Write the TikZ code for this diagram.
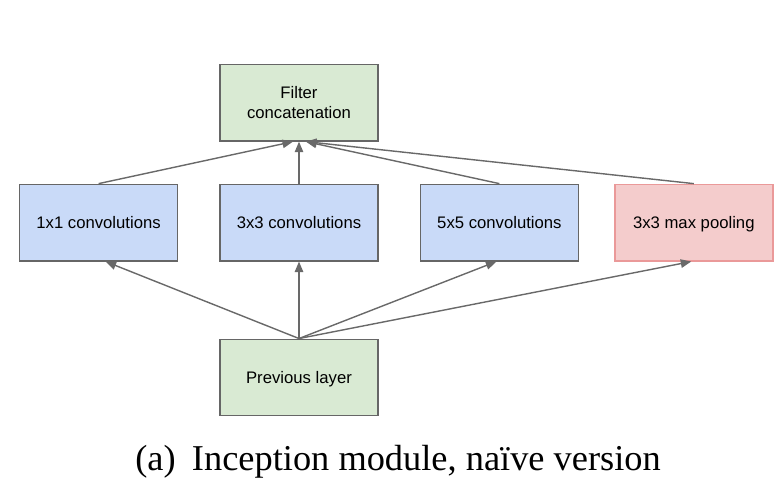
\documentclass[tikz,border=0pt]{standalone}
\usepackage{fontspec}
\setmainfont{Liberation Serif}
\newfontfamily\boxfont{Liberation Sans}
\usetikzlibrary{positioning,arrows.meta}
\definecolor{boxgray}{HTML}{666666}
\definecolor{linkgray}{HTML}{696969}
\definecolor{layergreen}{HTML}{D9EAD3}
\definecolor{convblue}{HTML}{C9DAF8}
\definecolor{poolred}{HTML}{F4CCCC}
\definecolor{poolborder}{HTML}{EA9999}

\begin{document}
\begin{tikzpicture}[
    layer/.style={draw=boxgray, line width=0.8pt, fill=layergreen,
        minimum width=3.16cm, minimum height=1.53cm, inner sep=2pt, align=center,
        text depth=0pt, font=\boxfont\fontsize{9.5}{11.4}\selectfont},
    conv/.style={layer, fill=convblue},
    pool/.style={layer, draw=poolborder, fill=poolred},
    link/.style={draw=linkgray, line width=0.8pt, -{Triangle[length=6pt,width=4.8pt]}}
]
    \useasboundingbox (0,0) rectangle (15.66,9.74);

    \node[layer] (previous layer) at (5.98,2.19) {Previous layer};

    \node[conv, above=1.54cm of previous layer] (conv three) {3x3 convolutions};
    \node[conv, left=0.82cm of conv three] (conv one) {1x1 convolutions};
    \node[conv, right=0.82cm of conv three] (conv five) {5x5 convolutions};
    \node[pool, right=0.7cm of conv five] (max pool) {3x3 max pooling};

    \node[layer, above=0.84cm of conv three] (filter concat) {Filter\\concatenation};

    \draw[link] (previous layer.north) -- ([xshift=0.14cm]conv one.south);
    \draw[link] (previous layer.north) -- (conv three.south);
    \draw[link] (previous layer.north) -- ([xshift=-0.06cm]conv five.south);
    \draw[link] (previous layer.north) -- ([xshift=-0.05cm]max pool.south);

    \draw[link] (conv one.north) -- ([xshift=-0.12cm]filter concat.south);
    \draw[link] (conv three.north) -- (filter concat.south);
    \draw[link] (conv five.north) -- ([xshift=0.14cm]filter concat.south);
    \draw[link] (max pool.north) -- ([xshift=0.14cm]filter concat.south);

    \node[anchor=base, font=\fontsize{20.7}{25}\selectfont] (caption) at (7.96,0.32)
        {(a)\hspace{0.2em} Inception module, naïve version};
\end{tikzpicture}
\end{document}
